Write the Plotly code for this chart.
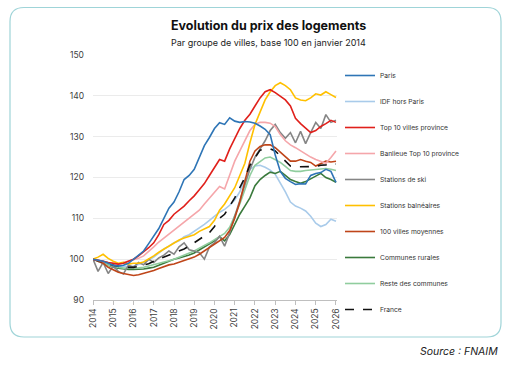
import plotly.graph_objects as go

# ---- data (quarterly, Jan 2014 .. Jan 2026) ----
start_year = 2014
n_points = 49
dates = [start_year + i / 4 for i in range(n_points)]

series_names = ["Paris", "IDF hors Paris", "Top 10 villes province", "Banlieue Top 10 province",
                "Stations de ski", "Stations balnéaires", "100 villes moyennes",
                "Communes rurales", "Reste des communes", "France"]

paris = [100, 99.8, 99.5, 99, 98.5, 98.3, 98.5, 99, 100, 100.8, 102, 103.8, 105.5, 107.5, 110, 112.5,
         114, 116.5, 119.5, 120.5, 122, 125, 127.8, 129.8, 132, 133.4, 133, 134.6, 133.8, 133.5, 133.7, 133.6,
         133.3, 132.6, 131.8, 130.5, 125.5, 121.5, 119.8, 119, 118.3, 118.5, 118.4, 120.5, 121, 121.2, 122, 121.5,
         118.8]
idf = [100, 99.8, 99.5, 99, 98.5, 98.3, 98.2, 98.2, 98.3, 98.7, 99.2, 99.8, 100.5, 101.5, 102.5, 103.2,
       104, 104.5, 105.5, 106, 106.8, 107.5, 108.5, 109.5, 110.5, 111.5, 112.2, 113.2, 114.5, 116.5, 119.5, 122,
       122.8, 123, 122.5, 121.8, 120.8, 118.8, 116.5, 114, 113, 112.5, 111.8, 110.5, 108.8, 108, 108.5, 109.8,
       109.3]
top10 = [100, 99.8, 99.5, 99.2, 99, 98.8, 99, 99.5, 100, 100.8, 101.7, 102.8, 104, 106, 108.5, 109.5,
         111, 112, 113, 114.3, 115.5, 117, 118.5, 120.5, 122.5, 124.4, 124, 127, 129.5, 132, 134, 135.5,
         137.5, 139.5, 141, 141.5, 140.8, 140, 139, 137.5, 134.5, 133.2, 132, 131, 131.5, 132.5, 133.2, 134,
         133.5]
banlieue = [100, 99.7, 99.5, 99.2, 99, 98.8, 99.2, 99.5, 99.8, 100.2, 100.8, 101.8, 103, 104.2, 105.2, 106.2,
            107, 108, 109, 110, 111, 112, 113.5, 115, 116.5, 117.8, 117.2, 120.5, 124, 126.5, 129, 131.5,
            133, 133.5, 133.5, 133.3, 132.5, 130.5, 129, 128, 127.3, 126.5, 125.6, 125, 124.4, 124, 123.5, 124.9,
            126.5]
ski = [100, 97, 99.2, 96.5, 98.3, 97, 96.4, 98.5, 98, 99.2, 98.6, 100, 99.2, 100.3, 101, 102,
       101.2, 103, 104, 102.3, 102, 101.6, 100, 103, 104, 105.6, 103.2, 106.5, 110.5, 114.5, 118.5, 122,
       125, 127, 129, 131.5, 133, 131, 129.6, 131, 128.5, 131.3, 128.3, 131, 133.5, 132, 135.4, 133.5,
       134]
balneaires = [100, 100.5, 101.2, 100.2, 99.5, 99, 99.2, 98.8, 99, 99, 99.3, 100, 100.8, 101.7, 102.5, 103.3,
              104, 104.7, 105.2, 105.6, 106, 106.8, 107.5, 108, 109.5, 112, 113.5, 115.5, 117.5, 120.5, 123.5, 128.5,
              133, 136, 139, 141, 142.5, 143.2, 142.5, 141.5, 139.5, 139, 138.8, 139.5, 140.5, 140.2, 141, 140.3,
              139.6]
villes100 = [100, 99.5, 99, 98, 97.3, 96.8, 96.5, 96.3, 96, 96.2, 96.5, 96.8, 97.2, 97.7, 98.2, 98.6,
             98.8, 99.2, 99.7, 100, 100.5, 101.2, 102, 102.7, 103.5, 104.5, 105.3, 107, 110, 114, 119, 124,
             126.5, 127.6, 128, 128, 127.3, 126.2, 125.2, 124, 124, 124.4, 124, 123.7, 122.8, 123.5, 124, 123.8,
             124]
rurales = [100, 99.4, 99, 98.5, 98, 97.8, 97.6, 97.5, 97.5, 97.5, 97.6, 97.8, 98, 98.5, 99, 99.5,
           100, 100.3, 100.6, 101, 101.5, 102.2, 103, 103.8, 104.5, 105.5, 104.5, 106, 108.5, 111, 113, 115,
           118, 119.5, 120.5, 121.3, 121, 121.5, 120.5, 119.5, 119, 118.6, 119, 119.6, 120.2, 121, 120, 119.5,
           118.8]
reste = [100, 99.5, 99, 98.5, 98.2, 98, 97.8, 97.8, 97.8, 97.9, 98, 98.3, 98.6, 99, 99.3, 99.6,
         100, 100.5, 101, 101.5, 102, 102.7, 103.3, 104, 104.8, 105.5, 106.3, 107.8, 110.5, 113.5, 117, 120.5,
         123, 124, 124.8, 125, 124.3, 123.7, 122.7, 121.7, 121.5, 121.5, 121.7, 121.8, 122, 122, 122.2, 122,
         121.7]
france = [100, 99.7, 99.3, 98.8, 98.5, 98.2, 98, 98, 98, 98.2, 98.5, 98.9, 99.5, 100, 100.5, 101,
          101.5, 102, 102.5, 103.2, 104, 104.8, 105.5, 106.5, 108, 110, 111, 113, 115, 117.5, 120, 123,
          125, 126.7, 127, 127, 126.5, 125.3, 124, 122.8, 122.6, 122.6, 122.6, 122.7, 122.7, 123, 123.1, 123.4,
          123.3]

year_ticks = list(range(2014, 2027))
year_labels = [str(y) for y in year_ticks]
y_ticks = [90, 100, 110, 120, 130, 140, 150]

all_values = [paris, idf, top10, banlieue, ski, balneaires, villes100, rurales, reste, france]
colors = ["#2E75B6", "#A9CBEA", "#E0201B", "#F5A6AA", "#858585", "#FFC000", "#BF4519",
          "#3A7A3C", "#90CD9E", "#111111"]
dashes = ["solid"] * 9 + ["dash"]

# ---- layout geometry (pixels) ----
W, H = 510, 374
L, R, T, B = 93, 173, 55, 74
PW, PH = W - L - R, H - T - B


def px(x):
    return (x - L) / PW


def py(y):
    return (H - B - y) / PH


font = "Inter, Lato, sans-serif"

fig = go.Figure()
draw_order = [1, 7, 8, 4, 6, 9, 3, 5, 2, 0]
for k in draw_order:
    fig.add_trace(go.Scatter(
        x=dates, y=all_values[k], mode="lines", name=series_names[k],
        legendgroup=series_names[k], legendrank=k + 1,
        line=dict(color=colors[k], width=1.6, dash=dashes[k]),
        hoverinfo="skip"))

# rounded frame
x0, x1 = px(10), px(501)
y0, y1 = py(337), py(7.5)
r = 14
rx, ry = r / PW, r / PH
path = (f"M {x0+rx},{y1} L {x1-rx},{y1} Q {x1},{y1} {x1},{y1-ry} "
        f"L {x1},{y0+ry} Q {x1},{y0} {x1-rx},{y0} L {x0+rx},{y0} "
        f"Q {x0},{y0} {x0},{y0+ry} L {x0},{y1-ry} Q {x0},{y1} {x0+rx},{y1} Z")
fig.add_shape(type="path", path=path, xref="paper", yref="paper",
              line=dict(color="#9FD4D8", width=1.2), layer="below")

fig.add_annotation(text="<b>Evolution du prix des logements</b>", x=px(268), y=py(25),
                   xref="paper", yref="paper", showarrow=False, xanchor="center", yanchor="middle",
                   font=dict(family=font, size=12.5, color="#111111"))
fig.add_annotation(text="Par groupe de villes, base 100 en janvier 2014", x=px(268), y=py(42),
                   xref="paper", yref="paper", showarrow=False, xanchor="center", yanchor="middle",
                   font=dict(family=font, size=9, color="#222222"))
fig.add_annotation(text="<i>Source : FNAIM</i>", x=px(500), y=py(352),
                   xref="paper", yref="paper", showarrow=False, xanchor="right", yanchor="middle",
                   font=dict(family=font, size=10.5, color="#222222"))

fig.update_layout(
    width=W, height=H,
    margin=dict(l=L, r=R, t=T, b=B),
    paper_bgcolor="white", plot_bgcolor="white",
    font=dict(family=font, size=9, color="#404040"),
    showlegend=True,
    legend=dict(x=px(340), y=py(61), xanchor="left", yanchor="top",
                font=dict(family=font, size=6.7, color="#333333"),
                tracegroupgap=7, traceorder="grouped", itemwidth=30,
                maxheight=400, bgcolor="rgba(0,0,0,0)"),
    xaxis=dict(range=[2014, 2026.05], tickmode="array", tickvals=year_ticks, ticktext=year_labels,
               tickangle=-90, showgrid=False, zeroline=False, showline=True,
               linecolor="#BFBFBF", linewidth=1, ticks="outside", ticklen=4, tickcolor="#BFBFBF",
               tickfont=dict(size=8.5, color="#404040")),
    yaxis=dict(range=[90, 150], tickmode="array", tickvals=y_ticks, showgrid=True,
               gridcolor="#EBEBEB", gridwidth=1, zeroline=False, showline=False,
               ticklabelstandoff=8, tickfont=dict(size=8.5, color="#404040")),
)

fig.write_html("out.html", config={"displayModeBar": False},
               post_script="document.body.style.margin='0';document.body.style.overflow='hidden';")
